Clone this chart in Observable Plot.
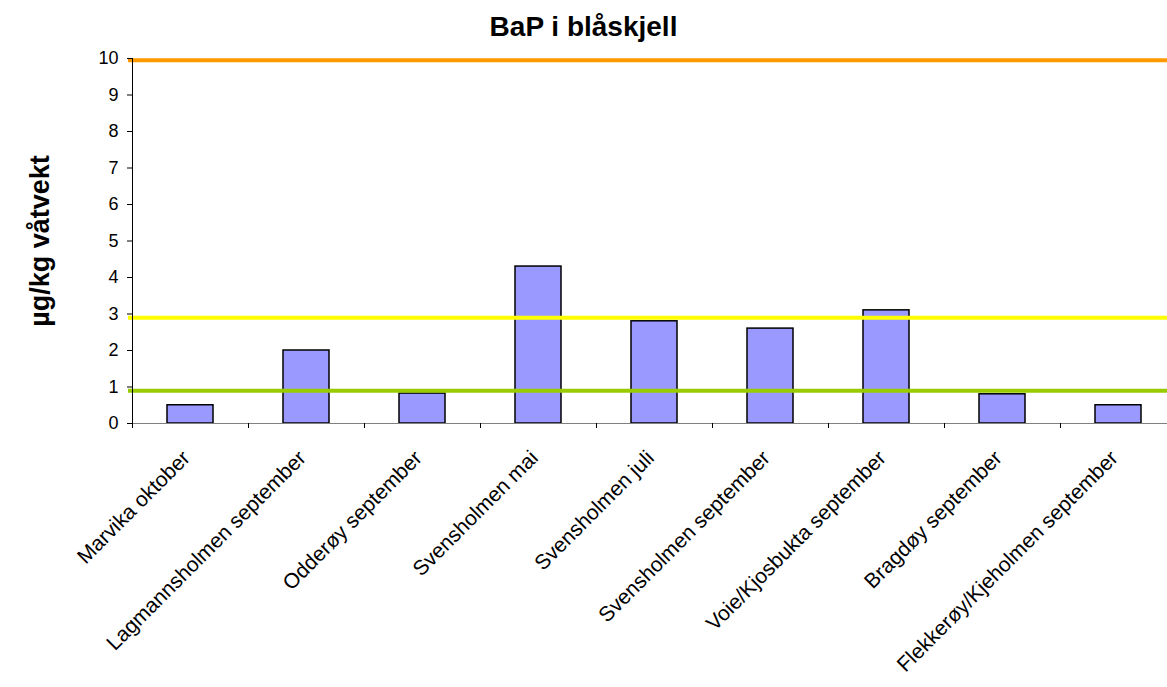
<!DOCTYPE html>
<html>
<head>
<meta charset="utf-8">
<script src="https://cdn.jsdelivr.net/npm/d3@7"></script>
<script src="https://cdn.jsdelivr.net/npm/@observablehq/plot@0.6"></script>
<style>
  html, body { margin: 0; padding: 0; background: #fff; }
  #title { height: 45px; box-sizing: border-box; padding-top: 13px; width: 1167px; text-align: center;
    font: bold 28px/28px "Liberation Sans", Arial, sans-serif; color: #000; }
</style>
</head>
<body>
<div id="title">BaP i blåskjell</div>
<div id="chart"></div>
<script>
const sites = ["Marvika oktober", "Lagmannsholmen september", "Odderøy september", "Svensholmen mai",
  "Svensholmen juli", "Svensholmen september", "Voie/Kjosbukta september", "Bragdøy september",
  "Flekkerøy/Kjeholmen september"];
const values = [0.5, 2.0, 0.82, 4.3, 2.8, 2.6, 3.1, 0.8, 0.5];
const limitValues = [9.95, 2.9, 0.9];
const limitColors = ["#FF9900", "#FFFF00", "#99CC00"];
const yTicks = [0, 1, 2, 3, 4, 5, 6, 7, 8, 9, 10];
const yLabel = "µg/kg våtvekt";

const data = sites.map((s, i) => ({site: s, value: values[i]}));
const limits = limitValues.map((v, i) => ({value: v, color: limitColors[i]}));

const width = 1167, height = 642;
const marginLeft = 132, marginRight = -9, marginTop = 13, marginBottom = 264;
const step = (width - marginLeft - marginRight) / sites.length;

const chart = Plot.plot({
  width, height, marginLeft, marginRight, marginTop, marginBottom,
  style: {fontFamily: "'Liberation Sans', Arial, sans-serif", color: "#000", background: "#fff", overflow: "visible"},
  x: {domain: sites, paddingInner: 0.6, paddingOuter: 0.3, axis: null},
  y: {domain: [0, 10], axis: null},
  marks: [
    Plot.barY(data, {x: "site", y: "value", fill: "#9999FF", stroke: "#000", strokeWidth: 1.5}),
    Plot.ruleY(limits, {y: "value", stroke: "color", strokeWidth: 4, insetLeft: -4}),
    Plot.ruleY([0], {stroke: "#808080", strokeWidth: 1}),
    Plot.ruleX([sites[0]], {dx: -step / 2, y1: 0, y2: 10, stroke: "#000", strokeWidth: 1}),
    Plot.axisY({ticks: yTicks, tickSize: 5, tickPadding: 9, fontSize: 18, label: null, tickFormat: d => String(d)}),
    Plot.axisX({tickSize: 5, tickFormat: () => "", dx: -step / 2, label: null}),
    Plot.axisX({tickSize: 0, tickPadding: 31, tickRotate: -45, fontSize: 21, dx: -4, label: null}),
    Plot.text([yLabel], {frameAnchor: "left", rotate: -90, dx: -92, textAnchor: "middle", fontSize: 27, fontWeight: "bold", text: d => d})
  ]
});
document.getElementById("chart").appendChild(chart);
</script>
</body>
</html>
